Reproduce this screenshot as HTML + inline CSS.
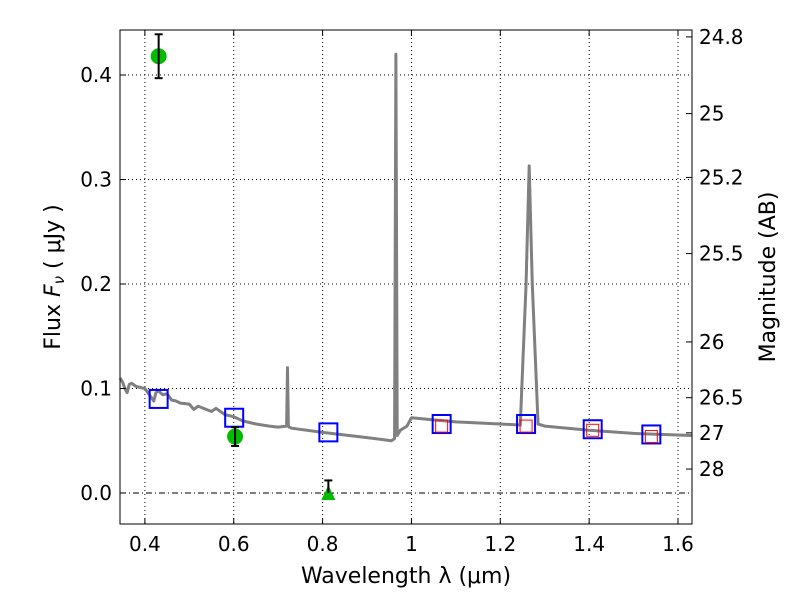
<!DOCTYPE html>
<html><head><meta charset="utf-8"><style>
body{margin:0;background:#fff;}
svg text{font-family:"DejaVu Sans","Liberation Sans",sans-serif;}
</style></head><body>
<svg id="chart" width="800" height="600" xmlns="http://www.w3.org/2000/svg">
<g id="grid"></g>
<g id="marks"></g>
<rect x="120" y="30" width="572" height="494" fill="none" stroke="#000" stroke-width="1"/>
<g id="axes"></g>
<text x="406" y="583" font-size="22" text-anchor="middle">Wavelength  λ (μm)</text>
<text transform="translate(60,277) rotate(-90)" font-size="22" text-anchor="middle">Flux  <tspan font-style="italic">F<tspan font-size="15" dy="4">ν</tspan></tspan><tspan dy="-4"> ( μJy )</tspan></text>
<text transform="translate(775,277) rotate(-90)" font-size="22" text-anchor="middle">Magnitude (AB)</text>
</svg>
<script>
const xTicks=[0.4,0.6,0.8,1.0,1.2,1.4,1.6];
const xTickLabels=["0.4","0.6","0.8","1","1.2","1.4","1.6"];
const yTicks=[0.0,0.1,0.2,0.3,0.4];
const yTickLabels=["0.0","0.1","0.2","0.3","0.4"];
const magTicks=[24.8,25,25.2,25.5,26,26.5,27,28];
const magTickLabels=["24.8","25","25.2","25.5","26","26.5","27","28"];
const specWave=[0.344,0.35,0.355,0.36,0.365,0.37,0.38,0.40,0.41,0.42,0.425,0.43,0.44,0.45,0.46,0.47,0.48,0.50,0.51,0.52,0.55,0.56,0.58,0.60,0.62,0.65,0.68,0.70,0.719,0.721,0.723,0.725,0.73,0.80,0.90,0.955,0.962,0.965,0.968,0.975,0.99,1.0,1.05,1.1,1.2,1.245,1.258,1.265,1.272,1.285,1.3,1.4,1.5,1.632];
const specFlux=[0.110,0.106,0.100,0.096,0.104,0.105,0.102,0.100,0.094,0.088,0.096,0.098,0.094,0.095,0.089,0.088,0.086,0.085,0.080,0.083,0.078,0.081,0.075,0.073,0.069,0.066,0.064,0.063,0.064,0.120,0.064,0.063,0.062,0.058,0.053,0.050,0.052,0.420,0.055,0.060,0.064,0.072,0.070,0.068,0.066,0.065,0.200,0.313,0.200,0.066,0.064,0.060,0.057,0.055];
const photWave=[0.431,0.603];
const photFlux=[0.418,0.054];
const photErr=[0.021,0.009];
const limWave=[0.813];
const limFlux=[0.0];
const limErr=[0.012];
const modelWave=[0.431,0.601,0.813,1.068,1.258,1.408,1.54];
const modelFlux=[0.090,0.072,0.058,0.066,0.066,0.061,0.056];
const nirWave=[1.068,1.258,1.408,1.54];
const nirFlux=[0.064,0.064,0.060,0.054];

const X0=120,X1=692,Y0=524,Y1=30,xmin=0.344,xmax=1.6315,ymin=-0.0297,ymax=0.4431;
const sx=v=>X0+(v-xmin)/(xmax-xmin)*(X1-X0);
const sy=v=>Y0-(v-ymin)/(ymax-ymin)*(Y0-Y1);
const NS="http://www.w3.org/2000/svg";
function mk(p,t,a){const e=document.createElementNS(NS,t);for(const k in a)e.setAttribute(k,a[k]);p.appendChild(e);return e;}
const grid=document.getElementById('grid'),marks=document.getElementById('marks'),axes=document.getElementById('axes');
xTicks.forEach((v,i)=>{
 const l=mk(grid,'line',{x1:sx(v),x2:sx(v),y1:Y1,y2:Y0,stroke:'#000','stroke-dasharray':'1,3','stroke-width':1});
 
 
 mk(axes,'line',{x1:sx(v),x2:sx(v),y1:Y0,y2:Y0-6,stroke:'#000'});
 mk(axes,'line',{x1:sx(v),x2:sx(v),y1:Y1,y2:Y1+6,stroke:'#000'});
 const t=mk(axes,'text',{x:sx(v),y:Y0+27,'font-size':20,'text-anchor':'middle'});t.textContent=xTickLabels[i];
 
 
});
yTicks.forEach((v,i)=>{
 const l=mk(grid,'line',{x1:X0,x2:X1,y1:sy(v),y2:sy(v),stroke:'#000','stroke-dasharray':v===0?'6,3,1,3':'1,3','stroke-width':1});
 
 
 mk(axes,'line',{x1:X0,x2:X0+6,y1:sy(v),y2:sy(v),stroke:'#000'});
 const t=mk(axes,'text',{x:X0-8,y:sy(v)+7,'font-size':20,'text-anchor':'end'});t.textContent=yTickLabels[i];
 
 
});
magTicks.forEach((m,i)=>{
 const y=sy(Math.pow(10,-(m-23.9)/2.5));
 mk(axes,'line',{x1:X1,x2:X1-6,y1:y,y2:y,stroke:'#000'});
 const t=mk(axes,'text',{x:X1+7,y:y+7,'font-size':20});t.textContent=magTickLabels[i];
 
 
});
const spec=mk(marks,'polyline',{points:specWave.map((w,i)=>sx(w)+','+sy(specFlux[i])).join(' '),fill:'none',stroke:'#808080','stroke-width':3,'stroke-linejoin':'round'});


modelWave.forEach((w,i)=>{
 const r=mk(marks,'rect',{x:sx(w)-9,y:sy(modelFlux[i])-9,width:18,height:18,fill:'none',stroke:'#0000ff','stroke-width':2});
 
 
});
nirWave.forEach((w,i)=>{
 const r=mk(marks,'rect',{x:sx(w)-6,y:sy(nirFlux[i])-6,width:12,height:12,fill:'none',stroke:'#ff0000','stroke-width':1});
 
 
});
photWave.forEach((w,i)=>{
 const x=sx(w),y=sy(photFlux[i]),y1=sy(photFlux[i]+photErr[i]),y2=sy(photFlux[i]-photErr[i]);
 const c=mk(marks,'circle',{cx:x,cy:y,r:8,fill:'#00bb00'});
 
 
 mk(marks,'line',{x1:x,x2:x,y1:y1,y2:y2,stroke:'#000','stroke-width':2});
 mk(marks,'line',{x1:x-4,x2:x+4,y1:y1,y2:y1,stroke:'#000','stroke-width':2});
 mk(marks,'line',{x1:x-4,x2:x+4,y1:y2,y2:y2,stroke:'#000','stroke-width':2});
});
limWave.forEach((w,i)=>{
 const x=sx(w),y=sy(limFlux[i]),y1=sy(limFlux[i]+limErr[i]);
 const p=mk(marks,'polygon',{points:`${x},${y-8} ${x-7},${y+7} ${x+7},${y+7}`,fill:'#00bb00'});
 
 
 mk(marks,'line',{x1:x,x2:x,y1:y1,y2:y,stroke:'#000','stroke-width':2});
 mk(marks,'line',{x1:x-4,x2:x+4,y1:y1,y2:y1,stroke:'#000','stroke-width':2});
});
</script>
</body></html>
